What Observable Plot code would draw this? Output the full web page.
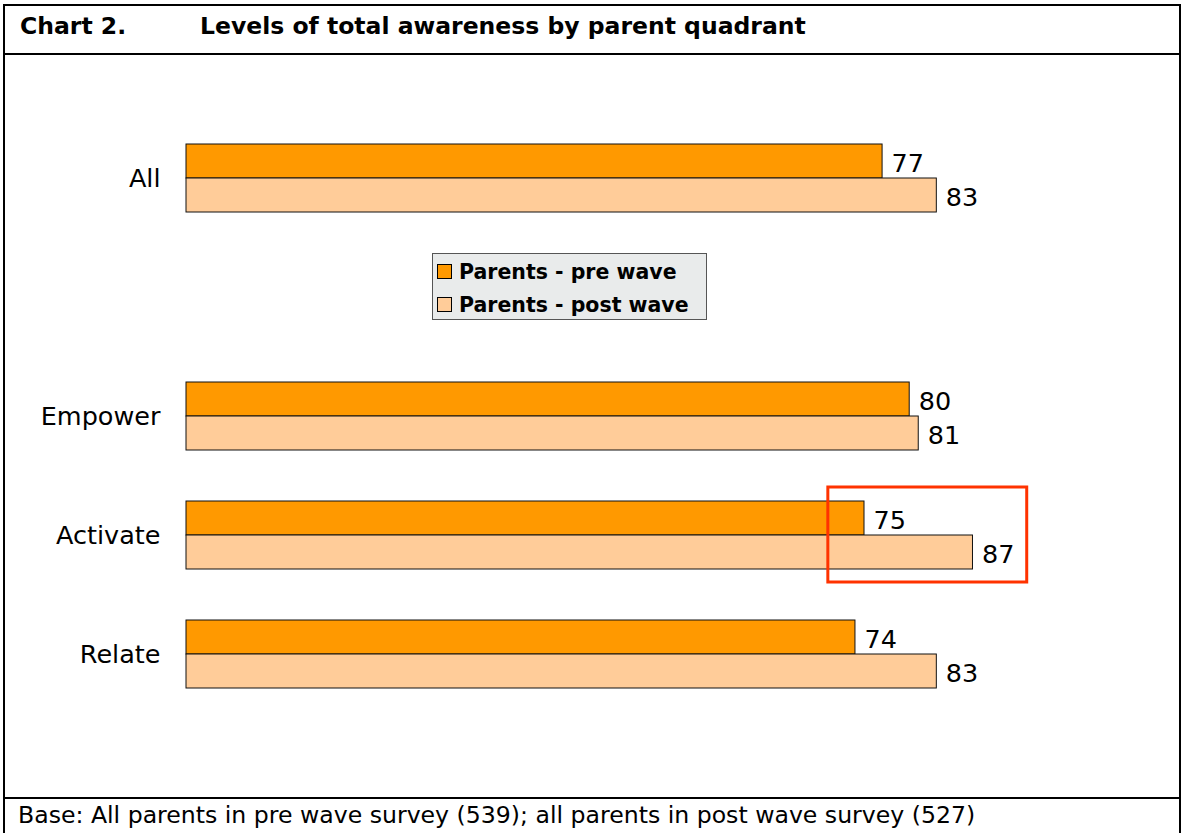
<!DOCTYPE html>
<html>
<head>
<meta charset="utf-8">
<script src="https://cdn.jsdelivr.net/npm/d3@7"></script>
<script src="https://cdn.jsdelivr.net/npm/@observablehq/plot@0.6"></script>
<style>
  html, body { margin: 0; padding: 0; background: #fff; }
  body { width: 1183px; height: 833px; position: relative; overflow: hidden; font-family: "DejaVu Sans", sans-serif; }
  #frame { position: absolute; left: 3px; top: 4px; width: 1174px; height: 840px; border: 2px solid #000; }
  #titlebar { position: absolute; left: 0; top: 0; width: 100%; height: 47px; border-bottom: 2px solid #000; }
  .t { position: absolute; top: 6px; font-weight: bold; font-size: 23.5px; color: #000; white-space: nowrap; }
  #footer { position: absolute; left: 0; top: 791px; width: 100%; height: 60px; border-top: 2px solid #000; }
  #footer span { position: absolute; left: 13px; top: 2px; font-size: 23.6px; color: #000; white-space: nowrap; }
  #chart { position: absolute; left: 0; top: 55px; }
  #legend { position: absolute; left: 432px; top: 253px; width: 273px; height: 65px; background: #e9ebeb; border: 1px solid #555; }
  .li { position: absolute; left: 4px; font-weight: bold; font-size: 20.5px; white-space: nowrap; }
  .sw { display: inline-block; width: 13px; height: 13px; border: 1px solid #000; vertical-align: 0px; margin-right: 7px; }
</style>
</head>
<body>
<div id="frame">
  <div id="titlebar"><span class="t" style="left:15px">Chart 2.</span><span class="t" style="left:195px">Levels of total awareness by parent quadrant</span></div>
  <div id="footer"><span>Base: All parents in pre wave survey (539); all parents in post wave survey (527)</span></div>
</div>
<div id="chart"></div>
<div id="legend"></div>
<script>
const categories = ["All", "", "Empower", "Activate", "Relate"];
const series = ["Parents - pre wave", "Parents - post wave"];
const colors = ["#ff9900", "#ffcc99"];
const preValues = [77, null, 80, 75, 74];
const postValues = [83, null, 81, 87, 83];
const highlight = [{category: "Activate", from: 71, to: 93}];

const pre = categories.map((c, i) => ({category: c, value: preValues[i]})).filter(d => d.value != null);
const post = categories.map((c, i) => ({category: c, value: postValues[i]})).filter(d => d.value != null);

const half = 34;
const chart = Plot.plot({
  width: 1183,
  height: 742,
  marginLeft: 186, marginRight: 0, marginTop: 0, marginBottom: 0,
  style: {fontFamily: "DejaVu Sans, sans-serif", background: "transparent"},
  x: {domain: [0, 100], range: [186, 1090], axis: null},
  y: {domain: categories, range: [88, 633], paddingInner: 0.43, paddingOuter: 0, axis: null},
  marks: [
    Plot.barX(pre, {x: "value", y: "category", fill: colors[0], stroke: "#111", strokeWidth: 1, insetBottom: half}),
    Plot.barX(post, {x: "value", y: "category", fill: colors[1], stroke: "#111", strokeWidth: 1, insetTop: half}),
    Plot.text(pre, {x: "value", y: "category", text: d => String(d.value), textAnchor: "start", dx: 9, dy: -15, fontSize: 25.5, fill: "#000"}),
    Plot.text(post, {x: "value", y: "category", text: d => String(d.value), textAnchor: "start", dx: 9, dy: 19, fontSize: 25.5, fill: "#000"}),
    Plot.axisY({anchor: "left", tickSize: 0, tickPadding: 26, fontSize: 25.5, label: null, tickFormat: d => d}),
    Plot.barX(highlight, {x1: "from", x2: "to", y: "category", fill: "none", stroke: "#ff3300", strokeWidth: 3, insetTop: -14, insetBottom: -13})
  ]
});
document.getElementById("chart").appendChild(chart);

const legend = document.getElementById("legend");
series.forEach((s, i) => {
  const div = document.createElement("div");
  div.className = "li";
  div.style.top = (i === 0 ? 6 : 39) + "px";
  div.innerHTML = `<span class="sw" style="background:${colors[i]}"></span>${s}`;
  legend.appendChild(div);
});
</script>
</body>
</html>
